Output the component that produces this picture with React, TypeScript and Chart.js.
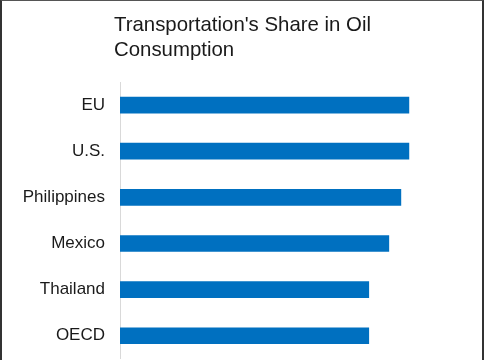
import React, { useEffect, useRef } from "react";
import { Chart, registerables } from "chart.js";

Chart.register(...registerables);

const titleLines = ["Transportation's Share in Oil", "Consumption"];
const categories = ["EU", "U.S.", "Philippines", "Mexico", "Thailand", "OECD"];
const shares = [72, 72, 70, 67, 62, 62];
const xMax = 80;

const FONT = "'Liberation Sans', Arial, Helvetica, sans-serif";

const titlePlugin = {
  id: "leftTitle",
  afterDraw(chart: any) {
    const ctx = chart.ctx;
    ctx.save();
    ctx.font = `20.4px ${FONT}`;
    ctx.fillStyle = "#1a1a1a";
    ctx.textAlign = "left";
    ctx.textBaseline = "alphabetic";
    titleLines.forEach((t, i) => ctx.fillText(t, 112, 30 + i * 25));
    ctx.restore();
  },
};

export default function App() {
  const ref = useRef<HTMLCanvasElement>(null);
  useEffect(() => {
    document.body.style.margin = "0";
    document.body.style.overflow = "hidden";
    const chart = new Chart(ref.current!, {
      type: "bar",
      data: {
        labels: categories,
        datasets: [
          {
            data: shares,
            backgroundColor: "#0070C0",
            barThickness: 16,
          },
        ],
      },
      options: {
        indexAxis: "y",
        responsive: false,
        animation: false,
        layout: { padding: { top: 81, bottom: 2, left: 0, right: 41 } },
        plugins: { legend: { display: false }, tooltip: { enabled: false }, title: { display: false } },
        scales: {
          x: { display: false, min: 0, max: xMax },
          y: {
            grid: { display: false, drawTicks: false },
            border: { display: true, color: "#d9d9d9", width: 1 },
            ticks: { color: "#1a1a1a", padding: 15, font: { family: FONT, size: 17 } },
            afterFit: (s: any) => {
              s.width = 118;
            },
          },
        },
      },
      plugins: [titlePlugin],
    });
    return () => chart.destroy();
  }, []);
  return (
    <div
      style={{
        position: "fixed",
        left: 0,
        top: 0,
        width: 484,
        height: 360,
        boxSizing: "border-box",
        borderTop: "1px solid #555",
        borderLeft: "2px solid #333",
        borderRight: "2px solid #333",
        background: "#fff",
        overflow: "hidden",
      }}
    >
      <canvas ref={ref} width={480} height={383} style={{ display: "block" }} />
    </div>
  );
}
